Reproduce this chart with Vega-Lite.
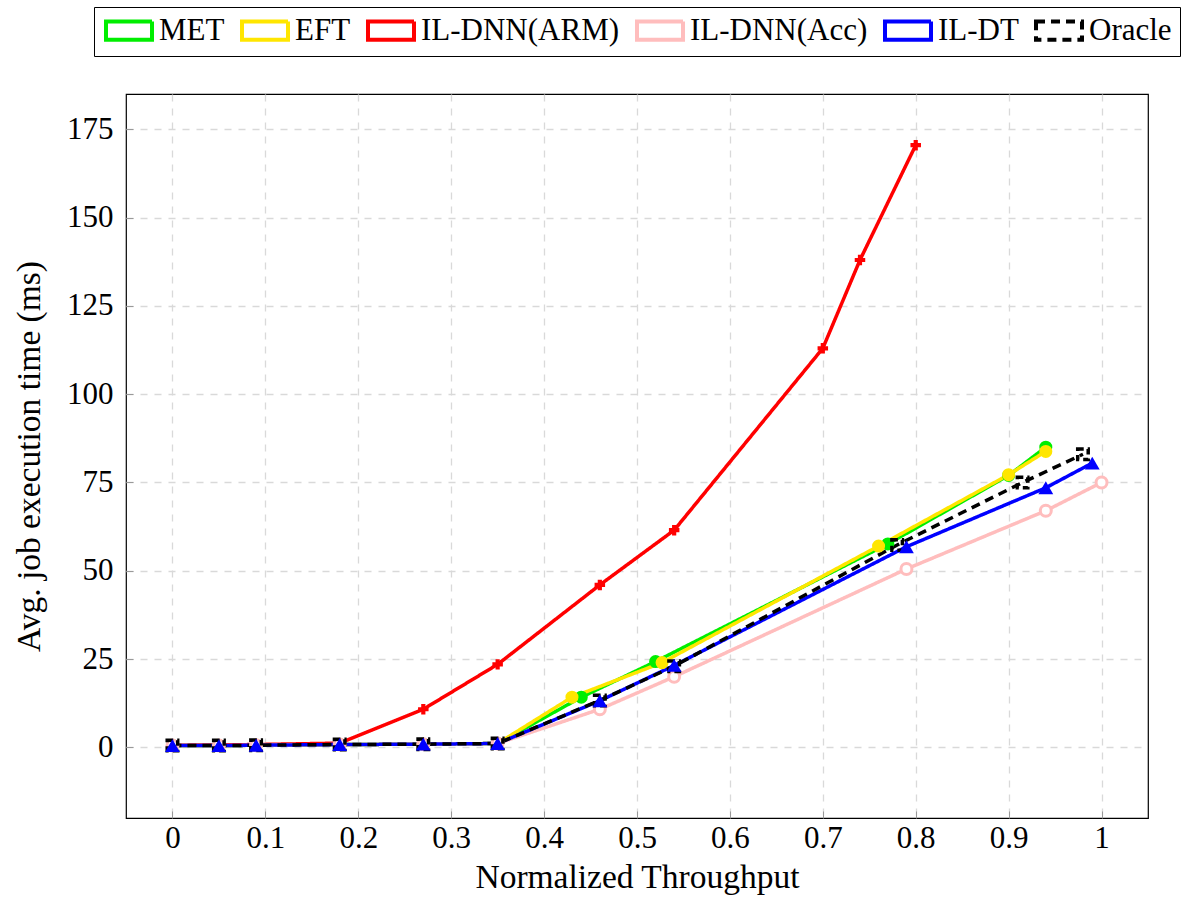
{
  "$schema": "https://vega.github.io/schema/vega-lite/v6.json",
  "width": 1022,
  "height": 724,
  "autosize": "none",
  "padding": {"left": 126, "top": 94, "right": 34, "bottom": 88},
  "background": "white",
  "config": {
    "font": "Liberation Serif",
    "view": {"stroke": "black", "strokeWidth": 1.2},
    "axis": {
      "labelFont": "Liberation Serif",
      "titleFont": "Liberation Serif",
      "labelFontSize": 31,
      "titleFontSize": 33.5,
      "titleFontWeight": "normal",
      "labelColor": "black",
      "titleColor": "black",
      "domain": false,
      "tickColor": "#999999",
      "tickSize": -7,
      "gridColor": "#d9d9d9",
      "gridDash": [7, 7],
      "gridWidth": 1.3
    },
    "legend": {
      "labelFont": "Liberation Serif",
      "labelFontSize": 31,
      "labelColor": "black",
      "labelLimit": 400
    }
  },
  "data": {
    "values": [
      {"s": "MET", "x": 0, "y": 0.5},
      {"s": "MET", "x": 0.05, "y": 0.5},
      {"s": "MET", "x": 0.09, "y": 0.6},
      {"s": "MET", "x": 0.18, "y": 0.8},
      {"s": "MET", "x": 0.27, "y": 0.9},
      {"s": "MET", "x": 0.35, "y": 1.1},
      {"s": "MET", "x": 0.44, "y": 14.2},
      {"s": "MET", "x": 0.52, "y": 24.3},
      {"s": "MET", "x": 0.77, "y": 57.6},
      {"s": "MET", "x": 0.9, "y": 77},
      {"s": "MET", "x": 0.94, "y": 85},
      {"s": "EFT", "x": 0, "y": 0.5},
      {"s": "EFT", "x": 0.05, "y": 0.5},
      {"s": "EFT", "x": 0.09, "y": 0.6},
      {"s": "EFT", "x": 0.18, "y": 0.8},
      {"s": "EFT", "x": 0.27, "y": 0.9},
      {"s": "EFT", "x": 0.35, "y": 1.1},
      {"s": "EFT", "x": 0.43, "y": 14.2},
      {"s": "EFT", "x": 0.527, "y": 24},
      {"s": "EFT", "x": 0.76, "y": 57},
      {"s": "EFT", "x": 0.9, "y": 77.2},
      {"s": "EFT", "x": 0.94, "y": 83.8},
      {"s": "IL-DNN(ARM)", "x": 0, "y": 0.6},
      {"s": "IL-DNN(ARM)", "x": 0.05, "y": 0.7},
      {"s": "IL-DNN(ARM)", "x": 0.09, "y": 0.8},
      {"s": "IL-DNN(ARM)", "x": 0.18, "y": 1.2},
      {"s": "IL-DNN(ARM)", "x": 0.27, "y": 10.8},
      {"s": "IL-DNN(ARM)", "x": 0.35, "y": 23.5},
      {"s": "IL-DNN(ARM)", "x": 0.46, "y": 46},
      {"s": "IL-DNN(ARM)", "x": 0.54, "y": 61.5},
      {"s": "IL-DNN(ARM)", "x": 0.7, "y": 113},
      {"s": "IL-DNN(ARM)", "x": 0.74, "y": 138},
      {"s": "IL-DNN(ARM)", "x": 0.8, "y": 170.5},
      {"s": "IL-DNN(Acc)", "x": 0, "y": 0.5},
      {"s": "IL-DNN(Acc)", "x": 0.05, "y": 0.5},
      {"s": "IL-DNN(Acc)", "x": 0.09, "y": 0.6},
      {"s": "IL-DNN(Acc)", "x": 0.18, "y": 0.8},
      {"s": "IL-DNN(Acc)", "x": 0.27, "y": 0.9},
      {"s": "IL-DNN(Acc)", "x": 0.35, "y": 1.1},
      {"s": "IL-DNN(Acc)", "x": 0.46, "y": 10.8},
      {"s": "IL-DNN(Acc)", "x": 0.54, "y": 20},
      {"s": "IL-DNN(Acc)", "x": 0.79, "y": 50.5},
      {"s": "IL-DNN(Acc)", "x": 0.94, "y": 67},
      {"s": "IL-DNN(Acc)", "x": 1.0, "y": 75},
      {"s": "IL-DT", "x": 0, "y": 0.5},
      {"s": "IL-DT", "x": 0.05, "y": 0.5},
      {"s": "IL-DT", "x": 0.09, "y": 0.6},
      {"s": "IL-DT", "x": 0.18, "y": 0.8},
      {"s": "IL-DT", "x": 0.27, "y": 0.9},
      {"s": "IL-DT", "x": 0.35, "y": 1.1},
      {"s": "IL-DT", "x": 0.46, "y": 13.2},
      {"s": "IL-DT", "x": 0.54, "y": 23.2},
      {"s": "IL-DT", "x": 0.79, "y": 56.8},
      {"s": "IL-DT", "x": 0.94, "y": 73.5},
      {"s": "IL-DT", "x": 0.99, "y": 80.5},
      {"s": "Oracle", "x": 0, "y": 0.5},
      {"s": "Oracle", "x": 0.05, "y": 0.5},
      {"s": "Oracle", "x": 0.09, "y": 0.6},
      {"s": "Oracle", "x": 0.18, "y": 0.8},
      {"s": "Oracle", "x": 0.27, "y": 0.9},
      {"s": "Oracle", "x": 0.35, "y": 1.1},
      {"s": "Oracle", "x": 0.46, "y": 13.3},
      {"s": "Oracle", "x": 0.54, "y": 23},
      {"s": "Oracle", "x": 0.78, "y": 57.3},
      {"s": "Oracle", "x": 0.915, "y": 75},
      {"s": "Oracle", "x": 0.98, "y": 83}
    ]
  },
  "encoding": {
    "x": {
      "field": "x",
      "type": "quantitative",
      "scale": {"domain": [-0.05, 1.05], "nice": false, "zero": false},
      "axis": {
        "title": "Normalized Throughput",
        "values": [0, 0.1, 0.2, 0.3, 0.4, 0.5, 0.6, 0.7, 0.8, 0.9, 1],
        "format": ".1~f",
        "labelPadding": 12,
        "titlePadding": 8,
        "titleFont": "Liberation Serif",
        "labelFont": "Liberation Serif"
      }
    },
    "y": {
      "field": "y",
      "type": "quantitative",
      "scale": {"domain": [-20, 185], "nice": false, "zero": false},
      "axis": {
        "title": "Avg. job execution time (ms)",
        "values": [0, 25, 50, 75, 100, 125, 150, 175],
        "labelPadding": 20,
        "titlePadding": 20,
        "titleFont": "Liberation Serif",
        "labelFont": "Liberation Serif"
      }
    }
  },
  "layer": [
    {
      "mark": {"type": "line", "strokeWidth": 3.5},
      "encoding": {
        "color": {
          "field": "s",
          "type": "nominal",
          "sort": null,
          "scale": {
            "domain": ["MET", "EFT", "IL-DNN(ARM)", "IL-DNN(Acc)", "IL-DT", "Oracle"],
            "range": ["#00ee00", "#ffe600", "#ff0000", "#ffbdbd", "#0000ff", "#000000"]
          },
          "legend": {
            "title": null,
            "orient": "none",
            "legendX": -32,
            "legendY": -87,
            "direction": "horizontal",
            "strokeColor": "black",
            "fillColor": "white",
            "padding": 8,
            "columnPadding": 9,
            "labelOffset": 26,
            "labelFont": "Liberation Serif",
            "labelFontSize": 31,
            "labelLimit": 400,
            "symbolType": "M-1,-0.8H3V0.8H-1Z",
            "symbolSize": 529,
            "symbolStrokeWidth": 4,
            "symbolFillColor": "transparent"
          }
        },
        "strokeDash": {
          "field": "s",
          "type": "nominal",
          "sort": null,
          "scale": {
            "domain": ["MET", "EFT", "IL-DNN(ARM)", "IL-DNN(Acc)", "IL-DT", "Oracle"],
            "range": [[1, 0], [1, 0], [1, 0], [1, 0], [1, 0], [9, 6]]
          },
          "legend": {
            "title": null,
            "orient": "none",
            "legendX": -32,
            "legendY": -87,
            "direction": "horizontal",
            "strokeColor": "black",
            "fillColor": "white",
            "padding": 8,
            "columnPadding": 9,
            "labelOffset": 26,
            "labelFont": "Liberation Serif",
            "labelFontSize": 31,
            "labelLimit": 400,
            "symbolType": "M-1,-0.8H3V0.8H-1Z",
            "symbolSize": 529,
            "symbolStrokeWidth": 4,
            "symbolFillColor": "transparent"
          }
        }
      }
    },
    {
      "transform": [{"filter": "datum.s === 'MET'"}],
      "mark": {"type": "point", "shape": "circle", "filled": true, "color": "#00ee00", "size": 170, "opacity": 1}
    },
    {
      "transform": [{"filter": "datum.s === 'EFT'"}],
      "mark": {"type": "point", "shape": "circle", "filled": true, "color": "#ffe600", "size": 170, "opacity": 1}
    },
    {
      "transform": [{"filter": "datum.s === 'IL-DNN(ARM)'"}],
      "mark": {"type": "point", "shape": "cross", "filled": true, "color": "#ff0000", "size": 110, "opacity": 1}
    },
    {
      "transform": [{"filter": "datum.s === 'IL-DNN(Acc)'"}],
      "mark": {"type": "point", "shape": "circle", "fill": "white", "stroke": "#ffbdbd", "strokeWidth": 3, "size": 120, "opacity": 1}
    },
    {
      "transform": [{"filter": "datum.s === 'Oracle'"}],
      "mark": {"type": "point", "shape": "square", "fill": "transparent", "stroke": "black", "strokeWidth": 3.5, "strokeDash": [6, 4], "size": 110, "opacity": 1}
    },
    {
      "transform": [{"filter": "datum.s === 'IL-DT'"}],
      "mark": {"type": "point", "shape": "triangle-up", "filled": true, "color": "#0000ff", "size": 220, "opacity": 1}
    }
  ]
}
